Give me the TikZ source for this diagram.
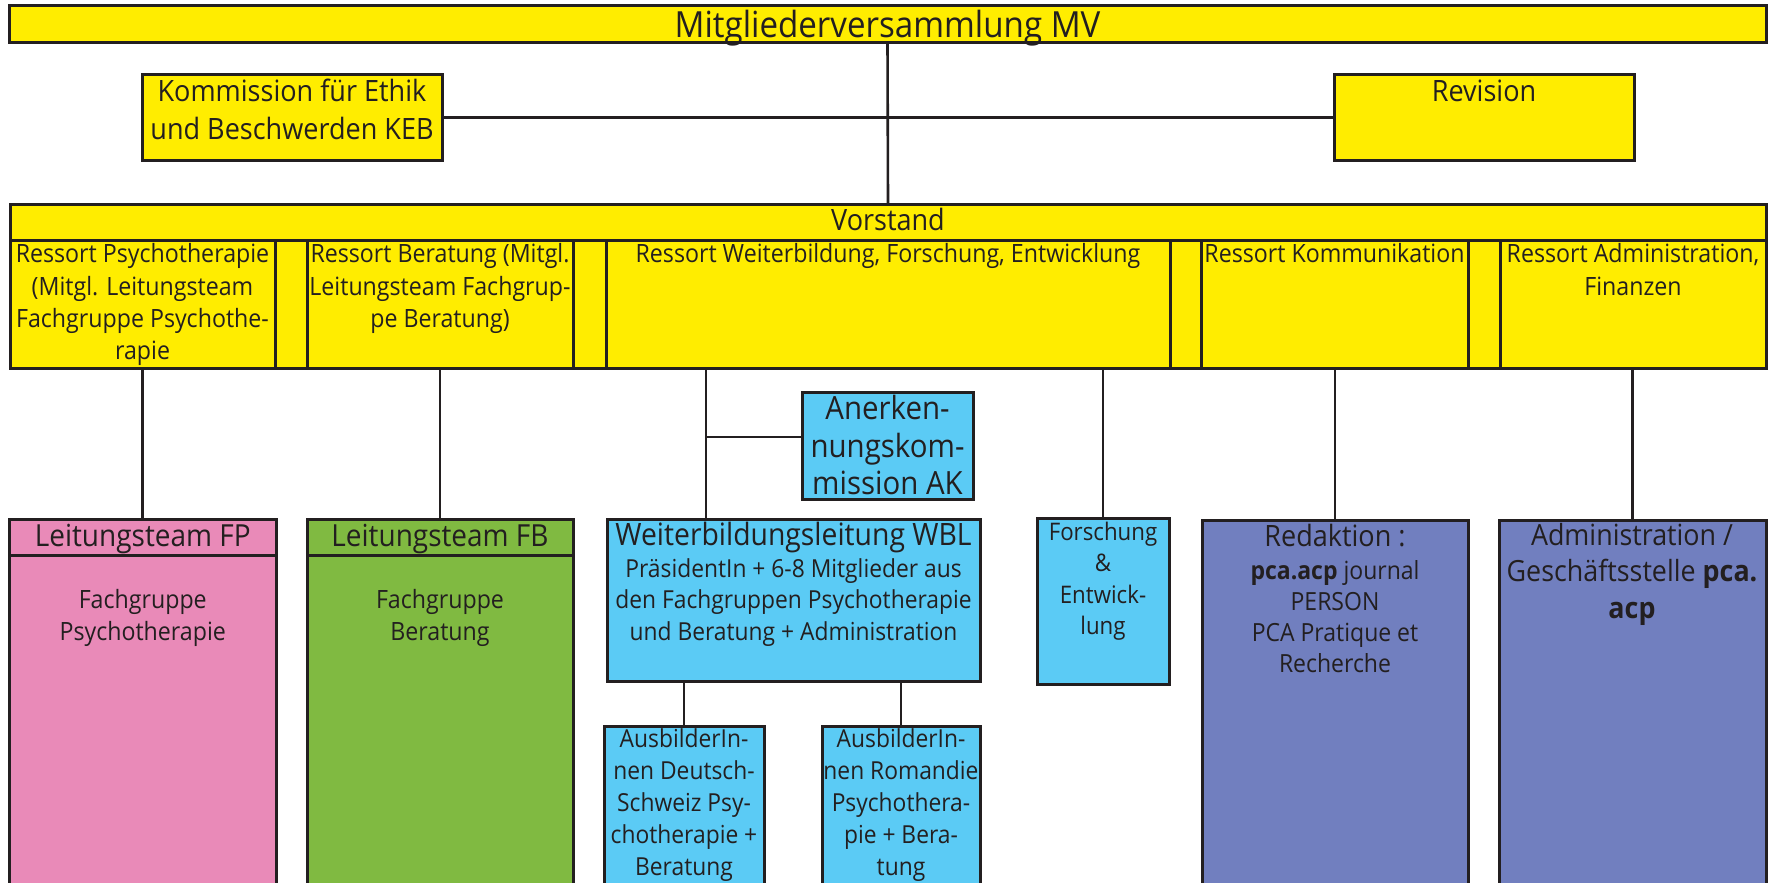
\documentclass[tikz,border=0pt]{standalone}
\usepackage{fontspec}
\setmainfont{Open Sans}[FakeStretch=0.92]
\definecolor{ink}{HTML}{231F20}
\definecolor{yel}{HTML}{FFED00}
\definecolor{pnk}{HTML}{E98AB8}
\definecolor{grn}{HTML}{80BA41}
\definecolor{blu}{HTML}{5BCBF5}
\definecolor{pur}{HTML}{717FBF}
\tikzset{
  bx/.style={draw=ink, line width=1.5pt, inner sep=0pt, outer sep=0pt, rectangle},
  cn/.style={draw=ink, line width=1.3pt},
  tx/.style={inner sep=0pt, outer sep=0pt, anchor=base, align=center, text=ink},
}
\newcommand\bx[6]{\node[bx, fill=#2, minimum width={(#5-#3)*0.5pt}, minimum height={(#6-#4)*0.5pt}] (#1) at ({(#3+#5)/2},{(#4+#6)/2}) {};}
\newcommand\fMV{\fontsize{18}{19}\selectfont}
\newcommand\fKEB{\fontsize{14.7}{18.85}\selectfont}
\newcommand\fVS{\fontsize{14.7}{18}\selectfont}
\newcommand\fRS{\fontsize{12.6}{16.15}\selectfont}
\newcommand\fLT{\fontsize{15.2}{18}\selectfont}
\newcommand\fAK{\fontsize{16}{18.85}\selectfont}
\newcommand\fWB{\fontsize{15.4}{18}\selectfont}
\newcommand\fWS{\fontsize{12.4}{15.9}\selectfont}
\newcommand\fAU{\fontsize{12.4}{16}\selectfont}
\newcommand\fFE{\fontsize{12.1}{15.75}\selectfont}
\newcommand\fRD{\fontsize{14.7}{18}\selectfont}
\newcommand\fRX{\fontsize{12.5}{15.5}\selectfont}
\newcommand\fAD{\fontsize{14.6}{18.35}\selectfont}
\begin{document}
\begin{tikzpicture}[x=0.5pt,y=-0.5pt]
\useasboundingbox (0,0) rectangle (1772,883);
\clip (0,0) rectangle (1772,883);
\fill[white] (0,0) rectangle (1772,883);
% boxes
\bx{MV}{yel}{9}{6}{1766}{43}
\bx{KEB}{yel}{142}{75}{442}{160}
\bx{REV}{yel}{1334}{75}{1634}{160}
\bx{VS}{yel}{10}{204}{1766}{368}
\bx{c1}{yel}{10}{240}{275}{368}
\bx{g1}{yel}{275}{240}{307.6}{368}
\bx{c2}{yel}{307.6}{240}{573}{368}
\bx{g2}{yel}{573}{240}{606}{368}
\bx{c3}{yel}{606}{240}{1170}{368}
\bx{g3}{yel}{1170}{240}{1201}{368}
\bx{c4}{yel}{1201}{240}{1468}{368}
\bx{g4}{yel}{1468}{240}{1500}{368}
\bx{c5}{yel}{1500}{240}{1766}{368}
\bx{AK}{blu}{802}{392}{973}{499}
\bx{FP}{pnk}{9}{519}{276.5}{900}
\bx{FPh}{pnk}{9}{519}{276.5}{555}
\bx{FB}{grn}{307}{519}{573}{900}
\bx{FBh}{grn}{307}{519}{573}{555}
\bx{WBL}{blu}{607}{519}{980}{681}
\bx{FE}{blu}{1037}{518}{1169}{684}
\bx{RED}{pur}{1202}{520}{1468}{900}
\bx{ADM}{pur}{1499}{520}{1766}{900}
\bx{A1}{blu}{604}{726}{764}{900}
\bx{A2}{blu}{822}{726}{980}{900}
% connectors
\coordinate (j1) at (706,437);
\draw[cn] (MV.south) -- (VS.north);
\draw[cn] (KEB.east) -- (REV.west);
\draw[cn] (FP.north |- c1.south) -- (FP.north);
\draw[cn] (FB.north |- c2.south) -- (FB.north);
\draw[cn] (j1 |- c3.south) -- (j1 |- WBL.north);
\draw[cn] (j1) -- (AK.west |- j1);
\draw[cn] (FE.north |- c3.south) -- (FE.north);
\draw[cn] (RED.north |- c4.south) -- (RED.north);
\draw[cn] (ADM.north |- c5.south) -- (ADM.north);
\draw[cn] (A1.north |- WBL.south) -- (A1.north);
\draw[cn] (A2.north |- WBL.south) -- (A2.north);
% texts (y = baseline of the LAST line)
\node[tx, font=\fMV] (tMV) at (887.5,37.3) {Mitgliederversammlung MV};
\node[tx, font=\fKEB] (tKEB) at (292,139.4) {Kommission für Ethik\\und Beschwerden KEB};
\node[tx, font=\fKEB] (tREV) at (1484,101.7) {Revision};
\node[tx, font=\fVS] (tVS) at (888,230.7) {Vorstand};
\node[tx, font=\fRS] (tc1) at (142.5,359.6) {Ressort Psychotherapie\\(Mitgl. Leitungsteam\\Fachgruppe Psychothe-\\rapie};
\node[tx, font=\fRS] (tc2) at (440,327.3) {Ressort Beratung (Mitgl.\\Leitungsteam Fachgrup-\\pe Beratung)};
\node[tx, font=\fRS] (tc3) at (888,262.7) {Ressort Weiterbildung, Forschung, Entwicklung};
\node[tx, font=\fRS] (tc4) at (1334.5,262.7) {Ressort Kommunikation};
\node[tx, font=\fRS] (tc5) at (1633,295) {Ressort Administration,\\Finanzen};
\node[tx, font=\fAK] (tAK) at (887.5,494.7) {Anerken-\\nungskom-\\mission AK};
\node[tx, font=\fLT] (tFPh) at (142.75,546) {Leitungsteam FP};
\node[tx, font=\fRS] (tFP) at (142.75,640.3) {Fachgruppe\\Psychotherapie};
\node[tx, font=\fLT] (tFBh) at (440,546) {Leitungsteam FB};
\node[tx, font=\fRS] (tFB) at (440,640.3) {Fachgruppe\\Beratung};
\node[tx, font=\fWB] (tWBL) at (793.5,545) {Weiterbildungsleitung WBL};
\node[tx, font=\fWS] (tWBs) at (793.5,640.6) {PräsidentIn + 6-8 Mitglieder aus\\den Fachgruppen Psychotherapie\\und Beratung + Administration};
\node[tx, font=\fFE] (tFE) at (1103,634.5) {Forschung\\\&\\Entwick-\\lung};
\node[tx, font=\fRD] (tRED) at (1335,546.7) {Redaktion :};
\node[tx, font=\fRX] (tREDs) at (1335,672.3) {\textbf{pca.acp} journal\\PERSON\\PCA Pratique et\\Recherche};
\node[tx, font=\fAD] (tADM) at (1632,618.4) {Administration /\\Geschäftsstelle \textbf{pca.}\\\textbf{acp}};
\node[tx, font=\fAU] (tA1) at (684,875.7) {AusbilderIn-\\nen Deutsch-\\Schweiz Psy-\\chotherapie +\\Beratung};
\node[tx, font=\fAU] (tA2) at (901,875.7) {AusbilderIn-\\nen Romandie\\Psychothera-\\pie + Bera-\\tung};
\end{tikzpicture}
\end{document}
